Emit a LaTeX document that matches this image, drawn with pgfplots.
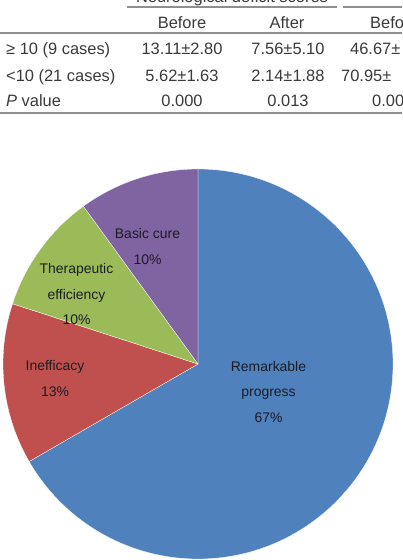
\documentclass[border=0pt]{standalone}
\usepackage{pgfplots}
\pgfplotsset{compat=1.18}
\usepackage{pgfplotstable}
\usepackage{fontspec}
\setmainfont{Liberation Sans}
\definecolor{cBlue}{HTML}{4F81BD}
\definecolor{cRed}{HTML}{C0504D}
\definecolor{cGreen}{HTML}{9BBB59}
\definecolor{cPurple}{HTML}{8064A2}
\definecolor{tabtext}{HTML}{3A3A3A}
\definecolor{tabrule}{HTML}{8E8E8E}
\definecolor{pietext}{HTML}{1C1C24}

\pgfplotstableread{
label value
Remarkable 20
Inefficacy 4
Therapeutic 3
Basic 3
}\piedata

\pgfplotstablegetelem{0}{value}\of\piedata \let\va\pgfplotsretval
\pgfplotstablegetelem{1}{value}\of\piedata \let\vb\pgfplotsretval
\pgfplotstablegetelem{2}{value}\of\piedata \let\vc\pgfplotsretval
\pgfplotstablegetelem{3}{value}\of\piedata \let\vd\pgfplotsretval
\pgfmathsetmacro\tot{\va+\vb+\vc+\vd}
\pgfmathsetmacro\aA{90}
\pgfmathsetmacro\aB{\aA-360*\va/\tot}
\pgfmathsetmacro\aC{\aB-360*\vb/\tot}
\pgfmathsetmacro\aD{\aC-360*\vc/\tot}
\pgfmathsetmacro\aE{\aD-360*\vd/\tot}
\pgfmathsetmacro\xA{cos(\aA)}\pgfmathsetmacro\yA{sin(\aA)}
\pgfmathsetmacro\xB{cos(\aB)}\pgfmathsetmacro\yB{sin(\aB)}
\pgfmathsetmacro\xC{cos(\aC)}\pgfmathsetmacro\yC{sin(\aC)}
\pgfmathsetmacro\xD{cos(\aD)}\pgfmathsetmacro\yD{sin(\aD)}

\begin{document}
\begin{tikzpicture}[x=1bp,y=1bp]
\useasboundingbox (0,0) rectangle (402,560);
\clip (0,0) rectangle (402,560);
% ---- table ----
\begin{scope}[every node/.style={text=tabtext,inner sep=0pt,font=\fontsize{16.5}{19}\selectfont}]
\draw[tabrule,line width=1.2bp] (127,553) -- (337,553);
\draw[tabrule,line width=1.2bp] (343,553) -- (402,553);
\draw[tabrule,line width=1.2bp] (0,527) -- (402,527);
\draw[tabrule,line width=2bp] (0,447) -- (402,447);
\node[anchor=base] at (232,557.5) {Neurological deficit scores};
\node[anchor=base] at (182,531.7) {Before};
\node[anchor=base] at (287,531.7) {After};
\node[anchor=base west] at (370,531.7) {Before};
\node[anchor=base west] at (6,505) {≥ 10 (9 cases)};
\node[anchor=base] at (182,505) {13.11±2.80};
\node[anchor=base] at (288,505) {7.56±5.10};
\node[anchor=base west] at (350,505) {46.67±};
\node[anchor=base west] at (6,478) {<10 (21 cases)};
\node[anchor=base] at (182,478) {5.62±1.63};
\node[anchor=base] at (288,478) {2.14±1.88};
\node[anchor=base west] at (341,478) {70.95±};
\node[anchor=base west] at (6,453) {\textit{P} value};
\node[anchor=base] at (182,453) {0.000};
\node[anchor=base] at (288,453) {0.013};
\node[anchor=base west] at (372,453) {0.00};
\end{scope}
% ---- pie ----
\begin{axis}[
  at={(198bp,196bp)}, anchor=origin,
  scale only axis, width=390bp, height=390bp,
  xmin=-1, xmax=1, ymin=-1, ymax=1,
  enlargelimits=false, hide axis, clip=false]
\addplot[fill=cBlue, draw=white, line width=0.3bp] coordinates {(0,0) (\xA,\yA)} arc[start angle=\aA, end angle=\aB, radius=195bp] -- cycle;
\addplot[fill=cRed, draw=white, line width=0.3bp] coordinates {(0,0) (\xB,\yB)} arc[start angle=\aB, end angle=\aC, radius=195bp] -- cycle;
\addplot[fill=cGreen, draw=white, line width=0.3bp] coordinates {(0,0) (\xC,\yC)} arc[start angle=\aC, end angle=\aD, radius=195bp] -- cycle;
\addplot[fill=cPurple, draw=white, line width=0.3bp] coordinates {(0,0) (\xD,\yD)} arc[start angle=\aD, end angle=\aE, radius=195bp] -- cycle;
\end{axis}
\begin{scope}[every node/.style={text=pietext,inner sep=0pt,anchor=base,font=\fontsize{14}{17}\selectfont}]
\node at (268.5,188.3) {Remarkable};
\node at (268.5,163.3) {progress};
\node at (268.5,137.3) {67\%};
\node at (55,189.3) {Inefficacy};
\node at (55,163.3) {13\%};
\node at (147.5,321) {Basic cure};
\node at (147.5,295) {10\%};
\node at (76.5,286.7) {Therapeutic};
\node at (76.5,260.7) {efficiency};
\node at (76.5,235) {10\%};
\end{scope}
\end{tikzpicture}
\end{document}
